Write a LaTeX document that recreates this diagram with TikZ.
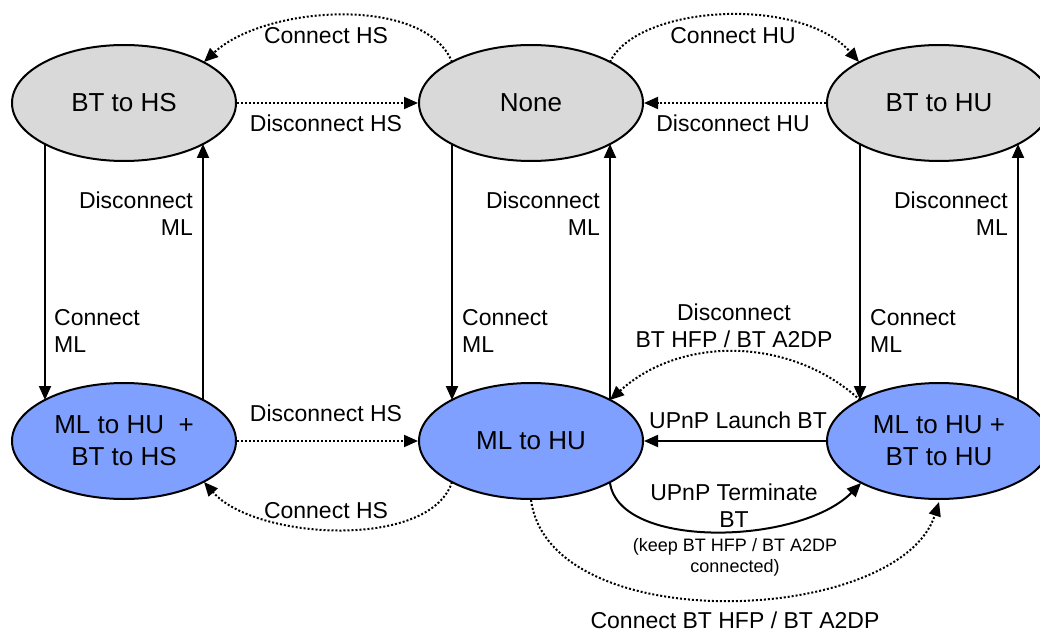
\documentclass[tikz,border=0pt]{standalone}
\usepackage{fontspec}
\setmainfont{Liberation Sans}
\usetikzlibrary{arrows.meta,calc,shapes.geometric}
\definecolor{stgray}{RGB}{217,217,217}
\definecolor{stblue}{RGB}{128,160,255}
\begin{document}
\begin{tikzpicture}[x=1pt,y=-1pt,
 state/.style={ellipse, draw, line width=2pt, minimum width=224pt, minimum height=116pt, inner sep=0pt, font=\fontsize{26}{32}\selectfont, align=center},
 idle/.style={state, fill=stgray},
 active/.style={state, fill=stblue},
 lbl/.style={font=\fontsize{23}{27}\selectfont, inner sep=0pt},
 small/.style={font=\fontsize{18}{21}\selectfont, inner sep=0pt, align=center},
 tr/.style={line width=2pt, -{Triangle[length=14pt,width=12pt]}},
 dot/.style={tr, dash pattern=on 2pt off 2pt},
]
\useasboundingbox (0,0) rectangle (1040,631);
\clip (0,0) rectangle (1040,631);
\fill[white] (0,0) rectangle (1040,631);

% states
\node[idle] (hs) at (124,103) {BT to HS};
\node[idle] (none) at (531,103) {None};
\node[idle] (hu) at (939,103) {BT to HU};
\node[active] (mlhs) at (124,441) {ML to HU~ +\\BT to HS};
\node[active] (ml) at (531,441) {ML to HU};
\node[active] (mlhu) at (939,441) {ML to HU +\\BT to HU};

% vertical transitions
\draw[tr] ($(hs)+(-79,41)$) -- ($(mlhs)+(-79,-41)$);
\draw[tr] ($(mlhs)+(79,-41)$) -- ($(hs)+(79,41)$);
\draw[tr] ($(none)+(-79,41)$) -- ($(ml)+(-79,-41)$);
\draw[tr] ($(ml)+(79,-41)$) -- ($(none)+(79,41)$);
\draw[tr] ($(hu)+(-79,41)$) -- ($(mlhu)+(-79,-41)$);
\draw[tr] ($(mlhu)+(79,-41)$) -- ($(hu)+(79,41)$);

\node[lbl, align=left, anchor=west] (l1) at (54,331) {Connect\\ML};
\node[lbl, align=right, anchor=east] (l2) at (193,214) {Disconnect\\ML};
\node[lbl, align=left, anchor=west] (l3) at (462,331) {Connect\\ML};
\node[lbl, align=right, anchor=east] (l4) at (600,214) {Disconnect\\ML};
\node[lbl, align=left, anchor=west] (l5) at (870,331) {Connect\\ML};
\node[lbl, align=right, anchor=east] (l6) at (1008,214) {Disconnect\\ML};

% top row
\draw[dot] (hs.east) -- (none.west);
\node[lbl] (l7) at (326,123) {Disconnect HS};
\draw[dot] (hu.west) -- (none.east);
\node[lbl] (l8) at (733,123) {Disconnect HU};
\draw[dot] ($(none)+(-79,-41)$) .. controls (425,-5) and (265,5) .. ($(hs)+(80,-41)$);
\node[lbl] (l9) at (326,36) {Connect HS};
\draw[dot] ($(none)+(79,-41)$) .. controls (637,5) and (800,-5) .. ($(hu)+(-80,-41)$);
\node[lbl] (l10) at (733,36) {Connect HU};

% bottom row
\draw[dot] (mlhs.east) -- (ml.west);
\node[lbl] (l11) at (326,413) {Disconnect HS};
\draw[dot] ($(ml)+(-79,41)$) .. controls (430,550) and (255,540) .. ($(mlhs)+(80,41)$);
\node[lbl] (l12) at (326,511) {Connect HS};

\draw[dot] ($(mlhu)+(-79,-41)$) .. controls (790,336) and (680,336) .. ($(ml)+(79,-41)$);
\node[lbl, align=center] (l13) at (734,326) {Disconnect\\BT HFP / BT A2DP};

\draw[tr] (mlhu.west) -- (ml.east);
\node[lbl] (l14) at (738,420) {UPnP Launch BT};

\draw[tr] ($(ml)+(79,42)$) .. controls (620,550) and (800,545) .. ($(mlhu)+(-78,42)$);
\node[lbl, align=center] (l15) at (734,506) {UPnP Terminate\\BT};
\node[small] (l16) at (735,557) {(keep BT HFP / BT A2DP\\connected)};

\draw[dot] (ml.south) .. controls (550,640) and (900,625) .. ($(mlhu.south)+(0,2)$);
\node[lbl] (l17) at (735,620) {Connect BT HFP / BT A2DP};
\end{tikzpicture}
\end{document}
